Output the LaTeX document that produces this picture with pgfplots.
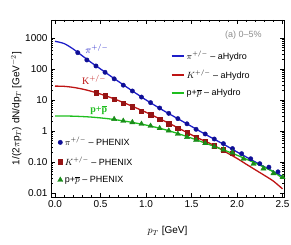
\documentclass[border=0pt]{standalone}
\usepackage{fontspec}
\setmainfont{Liberation Sans}
\newfontfamily\serifl{Liberation Serif}
\usepackage{pgfplots}
\pgfplotsset{compat=1.18}
\definecolor{lblue}{RGB}{30,30,200}
\definecolor{lred}{RGB}{190,20,20}
\definecolor{lgreen}{RGB}{30,190,30}
\definecolor{mblue}{RGB}{15,15,150}
\definecolor{mred}{RGB}{150,20,20}
\definecolor{mgreen}{RGB}{25,140,25}
\begin{document}
\begin{tikzpicture}
\useasboundingbox (-51pt,-47pt) rectangle (240pt,197pt);
% theory lines
\begin{axis}[
  scale only axis, width=233pt, height=177pt,
  at={(0pt,0pt)}, anchor=south west,
  ymode=log, xmin=-0.044, xmax=2.516, ymin=0.0074, ymax=3800,
  /pgf/number format/assume math mode=true,
  tick label style={font=\fontsize{10}{12}\selectfont},
  xtick={0,0.5,1,1.5,2,2.5},
  xticklabel style={/pgf/number format/fixed,/pgf/number format/fixed zerofill,/pgf/number format/precision=1},
  minor x tick num=4,
  ytick={0.01,0.1,1,10,100,1000},
  yticklabels={0.01,0.10,1,10,100,1000},
  tick align=inside, major tick length=4pt, minor tick length=2pt,
  every tick/.style={black, line width=0.5pt},
  axis line style={line width=0.8pt},
  xlabel={$p_T$ [GeV]},
  ylabel={1/(2$\pi$p$_T$) dN/dp$_T$ [GeV$^{-2}$]},
  label style={font=\fontsize{10}{12}\selectfont},
  xlabel style={at={(rel axis cs:0.5,0)}, anchor=north, yshift=-26pt},
  ylabel shift=-3pt,
  legend style={draw=none, fill=none, at={(rel axis cs:0.5,0.85)}, anchor=north west,
    font=\fontsize{9}{11}\selectfont, row sep=5.5pt, cells={anchor=west}},
  legend image code/.code={\draw[#1] (0pt,0pt) -- (12pt,0pt);},
]
\addlegendimage{draw=lblue, line width=2pt}
\addlegendentry{$\pi^{+/-}$ -- aHydro}
\addlegendimage{draw=lred, line width=2pt}
\addlegendentry{$K^{+/-}$ -- aHydro}
\addlegendimage{draw=lgreen, line width=2pt}
\addlegendentry{p+$\overline{p}$ -- aHydro}
\addplot[lblue, line width=1.3pt, smooth, forget plot] coordinates {
(0.0,780) (0.1,660) (0.2,440) (0.3,265) (0.4,160) (0.5,100) (0.6,62) (0.7,39)
(0.8,24.5) (0.9,15.6) (1.0,10.0) (1.1,6.6) (1.2,4.4) (1.3,3.0) (1.4,2.05) (1.5,1.4)
(1.6,0.95) (1.7,0.65) (1.8,0.45) (1.9,0.31) (2.0,0.21) (2.1,0.145) (2.2,0.10)
(2.3,0.07) (2.4,0.049) (2.5,0.034)};
\addplot[lred, line width=1.3pt, smooth, forget plot] coordinates {
(0.0,28) (0.1,27.5) (0.2,25.5) (0.3,22.5) (0.4,19) (0.5,15.5) (0.6,12.3) (0.7,9.5)
(0.8,7.2) (0.9,5.4) (1.0,4.0) (1.1,2.9) (1.2,2.1) (1.3,1.5) (1.4,1.06) (1.5,0.75)
(1.6,0.54) (1.7,0.40) (1.8,0.28) (1.9,0.19) (2.0,0.13) (2.1,0.085) (2.2,0.056)
(2.3,0.037) (2.4,0.024) (2.5,0.0135)};
\addplot[lgreen, line width=1.3pt, smooth, forget plot] coordinates {
(0.0,3.05) (0.2,3.0) (0.4,2.8) (0.6,2.45) (0.8,2.0) (1.0,1.55) (1.2,1.12)
(1.4,0.74) (1.6,0.46) (1.8,0.28) (2.0,0.165) (2.2,0.092) (2.4,0.048) (2.5,0.029)};
\node[text=black!45, font=\fontsize{9}{11}\selectfont, anchor=center] at (axis cs:2.07,1250) {(a) 0--5\%};
\node[text=lblue, font=\serifl\fontsize{10}{12}\selectfont] at (axis cs:0.46,442) {$\pi^{+/-}$};
\node[text=lred, font=\serifl\fontsize{10}{12}\selectfont] at (axis cs:0.43,44) {K$^{+/-}$};
\node[text=lgreen, font=\serifl\bfseries\fontsize{10}{12}\selectfont] at (axis cs:0.48,4.8) {p+$\overline{\mbox{p}}$};
\end{axis}
% data points
\begin{axis}[
  scale only axis, width=233pt, height=177pt,
  at={(0pt,0pt)}, anchor=south west,
  ymode=log, xmin=-0.044, xmax=2.516, ymin=0.0074, ymax=3800,
  axis lines=none, ticks=none,
  legend style={draw=none, fill=none, at={(rel axis cs:0.015,0.36)}, anchor=north west,
    font=\fontsize{9}{11}\selectfont, row sep=5.5pt, cells={anchor=west}},
]
\addplot[only marks, mark=*, mark size=2.2pt, mblue] coordinates {
(0.25,336) (0.35,195) (0.45,125) (0.55,78) (0.65,48) (0.75,30) (0.85,19.5)
(0.95,12.4) (1.05,8.2) (1.15,5.5) (1.25,3.7) (1.35,2.5) (1.45,1.7) (1.55,1.13)
(1.65,0.8) (1.75,0.55) (1.85,0.39) (1.95,0.27) (2.05,0.185) (2.15,0.127)
(2.25,0.088) (2.35,0.068) (2.45,0.048) (2.55,0.039)};
\addlegendentry{$\pi^{+/-}$ -- PHENIX}
\addplot[only marks, mark=square*, mark size=2.2pt, mred] coordinates {
(0.45,17.2) (0.55,13.8) (0.65,10.5) (0.75,7.8) (0.85,6.0) (0.95,4.4) (1.05,3.3)
(1.15,2.4) (1.25,1.7) (1.35,1.22) (1.45,0.88) (1.55,0.63) (1.65,0.45)
(1.75,0.33) (1.85,0.25) (1.95,0.19)};
\addlegendentry{$K^{+/-}$ -- PHENIX}
\addplot[only marks, mark=triangle*, mark size=3pt, mgreen] coordinates {
(0.65,2.4) (0.75,2.1) (0.85,1.9) (0.95,1.68) (1.05,1.45) (1.15,1.22) (1.25,1.02)
(1.35,0.80) (1.45,0.63) (1.55,0.51) (1.65,0.40) (1.75,0.31) (1.85,0.25)
(1.95,0.20) (2.07,0.125) (2.18,0.086) (2.29,0.061) (2.40,0.043) (2.50,0.032)};
\addlegendentry{p+$\overline{p}$ -- PHENIX}
\end{axis}
\end{tikzpicture}
\end{document}
